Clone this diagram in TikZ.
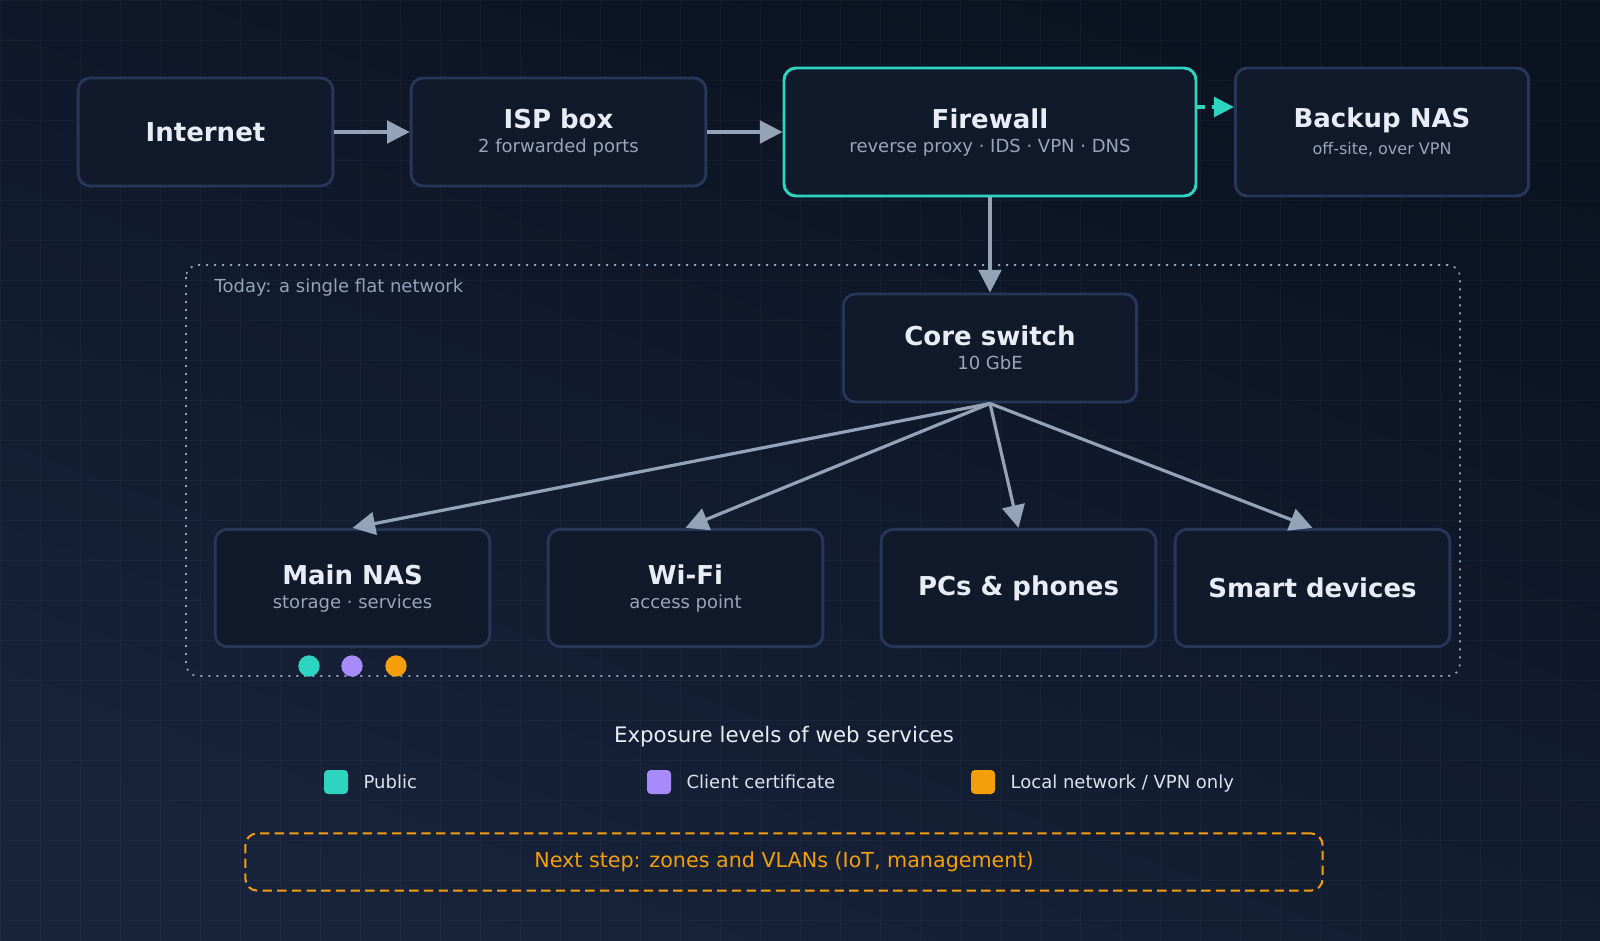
\documentclass[tikz,border=0pt]{standalone}
\usepackage{fontspec}
\setmainfont{DejaVu Sans}
\usetikzlibrary{arrows.meta, positioning, shapes.geometric}
\definecolor{bgA}{HTML}{0B1220}
\definecolor{bgB}{HTML}{17233B}
\definecolor{boxfill}{HTML}{111A2B}
\definecolor{boxline}{HTML}{27375A}
\definecolor{teal}{HTML}{2DD4BF}
\definecolor{lilac}{HTML}{A78BFA}
\definecolor{amber}{HTML}{F59E0B}
\definecolor{wire}{HTML}{94A3B8}
\definecolor{subtxt}{HTML}{9AA6B8}
\definecolor{maintxt}{HTML}{E8EDF5}
\tikzset{
  box/.style={draw=boxline, fill=boxfill, line width=2.2pt, rounded corners=9pt, align=center},
  sub/.style={font=\fontsize{13.5}{16}\selectfont, text=subtxt, text height=10pt, text depth=3pt},
  keytext/.style={font=\fontsize{13.5}{16}\selectfont, text=maintxt!85!subtxt, text height=10pt, text depth=0pt},
  link/.style={draw=wire, line width=2.4pt, -{Triangle[length=17pt,width=17pt]}},
  dot/.style={circle, inner sep=0pt, minimum size=16pt},
  key/.style={rounded corners=3pt, minimum size=18pt, inner sep=0pt}
}
\newcommand{\twoline}[2]{{\fontsize{19.5}{23}\selectfont\bfseries\color{maintxt}#1}\\[6pt]{\fontsize{13.5}{16}\selectfont\color{subtxt}#2}}
\newcommand{\oneline}[1]{{\fontsize{19.5}{23}\selectfont\bfseries\color{maintxt}#1}}
\begin{document}
\begin{tikzpicture}[x=0.75pt, y=-0.75pt]
  \useasboundingbox (0,0) rectangle (1600,940);
  \shade[top color=bgA, bottom color=bgB, shading angle=-20] (0,0) rectangle (1600,940);
  \draw[white, opacity=0.03, step=30pt] (0,0) grid (1600,940);

  % top row
  \node[box, minimum width=191pt, minimum height=81pt] (inet) at (205.5,132) {\oneline{Internet}};
  \node[box, minimum width=221pt, minimum height=81pt] (isp) at (558.5,132) {\twoline{ISP box}{2 forwarded ports}};
  \node[box, draw=teal, minimum width=309pt, minimum height=96pt] (fw) at (990,132) {\twoline{Firewall}{reverse proxy · IDS · VPN · DNS}};
  \node[box, minimum width=220pt, minimum height=96pt] (nasb) at (1382,132) {\twoline{Backup NAS}{\fontsize{12}{14}\selectfont off-site, over VPN}};

  % flat network
  \draw[wire, line width=1.3pt, dash pattern=on 1.5pt off 4.5pt, rounded corners=9pt] (186,265) rectangle (1460,676);
  \node[sub, text=wire, anchor=west] (zone) at (210,288) {Today: a single flat network};
  \node[box, minimum width=220pt, minimum height=81pt] (core) at (990,348) {\twoline{Core switch}{10 GbE}};
  \node[box, minimum width=206pt, minimum height=88pt] (nas) at (352.5,588) {\twoline{Main NAS}{storage · services}};
  \node[box, minimum width=206pt, minimum height=88pt] (wifi) at (685.5,588) {\twoline{Wi-Fi}{access point}};
  \node[box, minimum width=206pt, minimum height=88pt] (pcs) at (1018.5,588) {\oneline{PCs \& phones}};
  \node[box, minimum width=206pt, minimum height=88pt] (iot) at (1312.5,588) {\oneline{Smart devices}};
  \node[dot, fill=teal] (dpub) at (309,666) {};
  \node[dot, fill=lilac] (dcert) at (352,666) {};
  \node[dot, fill=amber] (dlan) at (396,666) {};

  % connectors
  \draw[link] (inet) -- (isp);
  \draw[link] (isp) -- (fw);
  \draw[teal, line width=2.4pt, dash pattern=on 6pt off 5pt, -{Triangle[length=15pt,width=15pt]}] (fw.east |- 0,107) -- (nasb.west |- 0,107);
  \draw[link] (fw) -- (core);
  \draw[link] (core.south) -- (nas.north);
  \draw[link] (core.south) -- (wifi.north);
  \draw[link] (core.south) -- (pcs.north);
  \draw[link] (core.south) -- (iot.north);

  % legend
  \node[font=\fontsize{16}{19}\selectfont, text=maintxt] (legend) at (784,737) {Exposure levels of web services};
  \node[key, fill=teal] (kpub) at (336,782) {};
  \node[keytext, right=8pt of kpub] {Public};
  \node[key, fill=lilac] (kcert) at (659,782) {};
  \node[keytext, right=8pt of kcert] {Client certificate};
  \node[key, fill=amber] (klan) at (983,782) {};
  \node[keytext, right=8pt of klan] {Local network / VPN only};

  \node[draw=amber, dash pattern=on 7pt off 4pt, line width=1.5pt, rounded corners=9pt, minimum width=808pt, minimum height=43pt,
        font=\fontsize{15.5}{18}\selectfont, text=amber] (next) at (784,862) {Next step: zones and VLANs (IoT, management)};
\end{tikzpicture}
\end{document}
